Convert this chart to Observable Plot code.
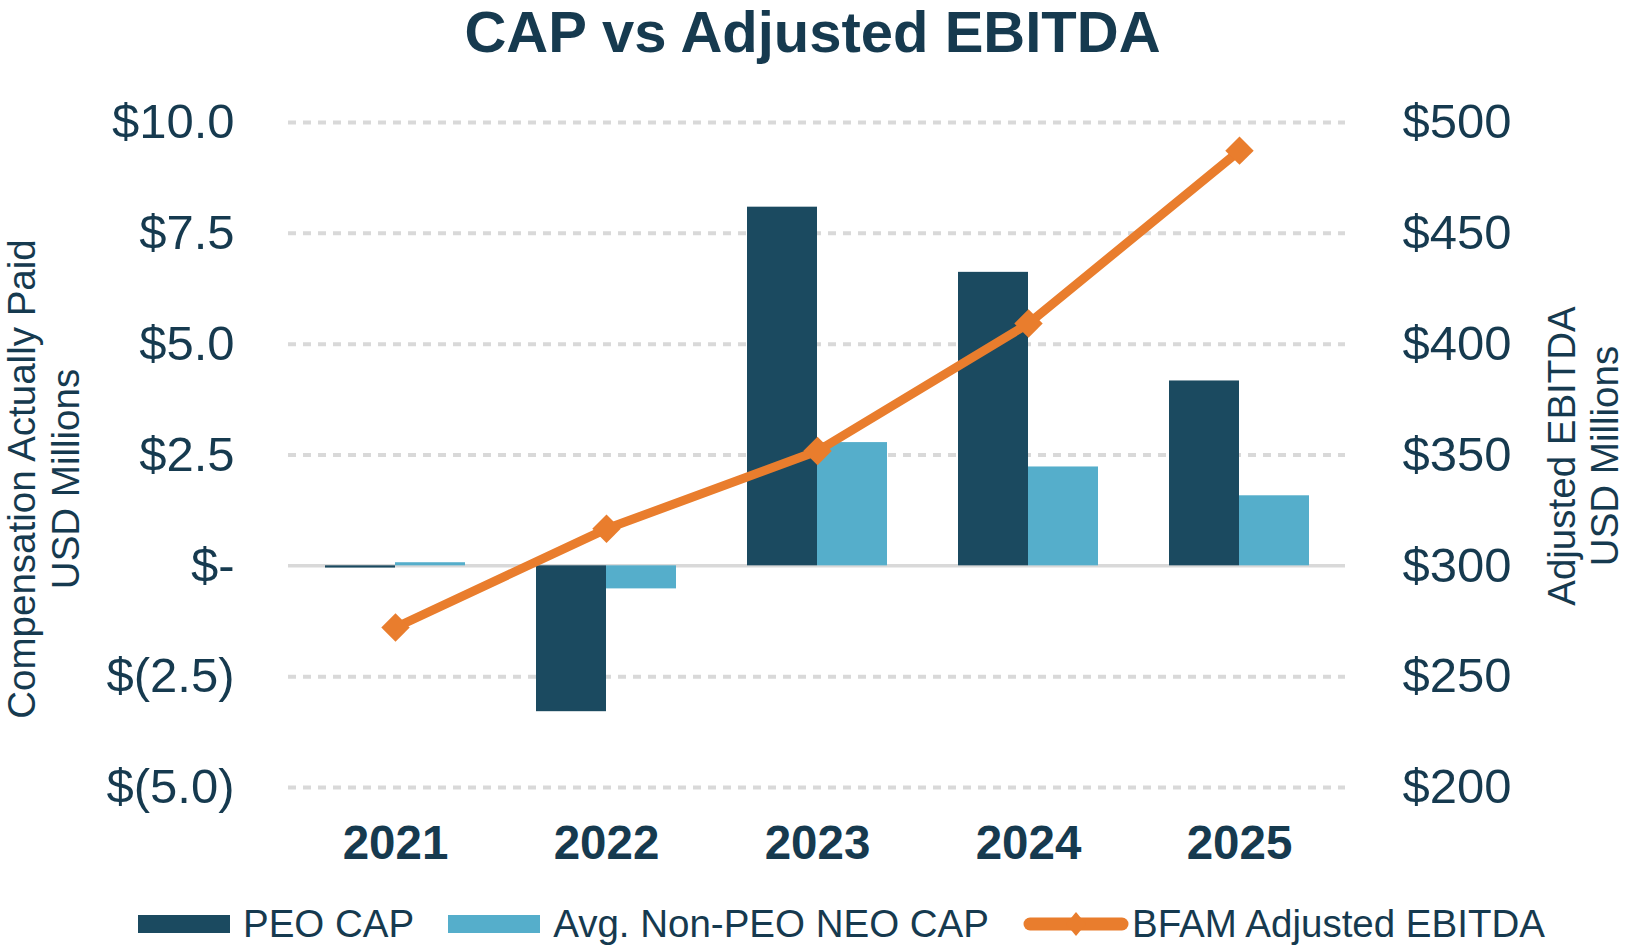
<!DOCTYPE html>
<html>
<head>
<meta charset="utf-8">
<script src="https://cdn.jsdelivr.net/npm/d3@7"></script>
<script src="https://cdn.jsdelivr.net/npm/@observablehq/plot@0.6"></script>
<style>
  html, body { margin: 0; padding: 0; background: #fff; }
  body { font-family: "Liberation Sans", Arial, sans-serif; color: #163a4f; }
  #wrap { position: relative; width: 1625px; height: 945px; overflow: hidden; }
  #title { position: absolute; top: 3px; left: 0; width: 1625px; text-align: center;
           font-size: 58px; line-height: 58px; font-weight: bold; color: #163a4f; }
  .layer { position: absolute; left: 0; top: 80px; }
  #legend { position: absolute; left: 138px; top: 904px; height: 40px; display: flex; align-items: center;
            font-size: 38.5px; color: #163a4f; }
  .item { display: flex; align-items: center; margin-right: 34px; }
  .item span { margin-left: 13px; white-space: nowrap; }
  .item.line span { margin-left: 3px; }
</style>
</head>
<body>
<div id="wrap">
  <div id="title">CAP vs Adjusted EBITDA</div>
  <div id="l1" class="layer"></div>
  <div id="l2" class="layer"></div>
  <div id="l3" class="layer"></div>
  <div id="legend"></div>
</div>
<script>
const years = ["2021", "2022", "2023", "2024", "2025"];
const peoCap = [-0.05, -3.29, 8.09, 6.62, 4.17];
const nonPeoCap = [0.07, -0.52, 2.78, 2.23, 1.58];
const ebitda = [272.2, 316.7, 351.8, 409.3, 487.3];
const seriesNames = ["PEO CAP", "Avg. Non-PEO NEO CAP"];
const lineName = "BFAM Adjusted EBITDA";
const seriesColors = ["#1b4a60", "#55aecb"];
const lineColor = "#e97d2d";
const leftTicks = [-5, -2.5, 0, 2.5, 5, 7.5, 10];
const leftTickLabels = ["$(5.0)", "$(2.5)", "$-", "$2.5", "$5.0", "$7.5", "$10.0"];
const rightTicks = [200, 250, 300, 350, 400, 450, 500];
const rightTickLabels = ["$200", "$250", "$300", "$350", "$400", "$450", "$500"];
const leftTitle = "Compensation Actually Paid\nUSD Millions";
const rightTitle = "Adjusted EBITDA\nUSD Millions";

const textColor = "#163a4f";
const gridColor = "#d9d9d9";
const common = {
  width: 1625, height: 800,
  marginTop: 42, marginBottom: 93, marginLeft: 288, marginRight: 280,
  style: { background: "transparent", fontFamily: "'Liberation Sans', Arial, sans-serif", color: textColor }
};

// Layer 1: grid + left axis
const p1 = Plot.plot({
  ...common,
  y: { domain: [-5, 10], axis: null },
  marks: [
    Plot.ruleY(leftTicks.filter(d => d !== 0), { stroke: gridColor, strokeWidth: 4, strokeDasharray: "8,7" }),
    Plot.ruleY([0], { stroke: gridColor, strokeWidth: 3.5 }),
    Plot.axisY({
      ticks: leftTicks,
      tickFormat: d => leftTickLabels[leftTicks.indexOf(d)],
      tickSize: 0, tickPadding: 54, fontSize: 49, fill: textColor, label: null
    })
  ]
});
document.getElementById("l1").append(p1);

// Layer 2: grouped bars
const tidy = years.flatMap((y, i) => [
  { year: y, series: seriesNames[0], value: peoCap[i] },
  { year: y, series: seriesNames[1], value: nonPeoCap[i] }
]);
const p2 = Plot.plot({
  ...common,
  fx: { domain: years, padding: 0, axis: null, label: null },
  x: { domain: seriesNames, paddingInner: 0, paddingOuter: 0.5, axis: null },
  y: { domain: [-5, 10], axis: null },
  color: { domain: seriesNames, range: seriesColors },
  marks: [
    Plot.barY(tidy, { fx: "year", x: "series", y: "value", fill: "series" })
  ]
});
document.getElementById("l2").append(p2);

// Layer 3: line + right axis + year axis + titles
const lineData = years.map((y, i) => ({ year: y, value: ebitda[i] }));
const p3 = Plot.plot({
  ...common,
  x: { type: "point", domain: years, padding: 0.5 },
  y: { domain: [200, 500] },
  marks: [
    Plot.line(lineData, { x: "year", y: "value", stroke: lineColor, strokeWidth: 9 }),
    Plot.dot(lineData, { x: "year", y: "value", symbol: "diamond2", r: 12.8, fill: lineColor, stroke: null }),
    Plot.axisY({
      anchor: "right", ticks: rightTicks,
      tickFormat: d => rightTickLabels[rightTicks.indexOf(d)],
      tickSize: 0, tickPadding: 57, fontSize: 49, fill: textColor, label: null
    }),
    Plot.axisX({ tickSize: 0, tickPadding: 38, fontSize: 47.5, fontWeight: "bold", fill: textColor, label: null }),
    Plot.text([leftTitle], { frameAnchor: "left", dx: -245.5, dy: 24, rotate: -90, fontSize: 38.5, lineHeight: 1.13, fill: textColor, textAnchor: "middle", lineAnchor: "middle" }),
    Plot.text([rightTitle], { frameAnchor: "right", dx: 237, dy: 1, rotate: -90, fontSize: 38.5, lineHeight: 1.13, fill: textColor, textAnchor: "middle", lineAnchor: "middle" })
  ]
});
document.getElementById("l3").append(p3);

// Legend
const legend = document.getElementById("legend");
function addItem(swatchSvg, label, cls) {
  const d = document.createElement("div");
  d.className = "item" + (cls ? " " + cls : "");
  d.innerHTML = swatchSvg;
  const s = document.createElement("span");
  s.textContent = label;
  d.append(s);
  legend.append(d);
}
addItem(`<svg width="92" height="18"><rect width="92" height="18" fill="${seriesColors[0]}"/></svg>`, seriesNames[0]);
addItem(`<svg width="92" height="18"><rect width="92" height="18" fill="${seriesColors[1]}"/></svg>`, seriesNames[1]);
addItem(`<svg width="106" height="26"><line x1="7" y1="13" x2="99" y2="13" stroke="${lineColor}" stroke-width="13" stroke-linecap="round"/><path d="M53,1 L63,13 L53,25 L43,13 Z" fill="${lineColor}"/></svg>`, lineName, "line");
</script>
</body>
</html>
